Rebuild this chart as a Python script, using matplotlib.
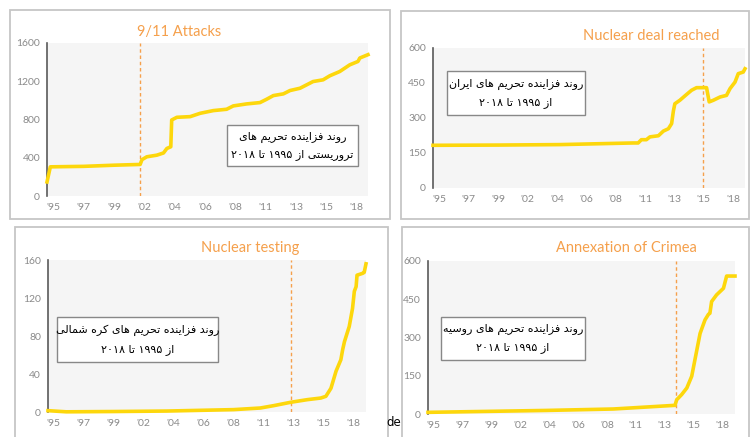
import re
import matplotlib.pyplot as plt
from matplotlib.patches import Rectangle

W, H = 751, 437

# x values are in tick units: 0 = '95, 1 = '97, ... 10 = '18
xticklabels = ["'95", "'97", "'99", "'02", "'04", "'06", "'08", "'11", "'13", "'15", "'18"]

terror_x = [-0.21, -0.10, 1.0, 2.0, 2.86, 2.92, 3.08, 3.41, 3.63, 3.74, 3.87, 3.90, 4.07,
            4.51, 4.84, 5.27, 5.71, 5.93, 6.37, 6.81, 7.03, 7.25, 7.58, 7.80, 8.13, 8.56,
            8.89, 9.11, 9.44, 9.77, 10.04, 10.10, 10.37]
terror_y = [147, 305, 310, 322, 330, 380, 410, 427, 450, 497, 515, 795, 823,
            830, 865, 893, 907, 942, 963, 977, 1012, 1050, 1068, 1103, 1127, 1197,
            1215, 1257, 1302, 1372, 1407, 1443, 1478]

iran_x = [-0.22, 2.0, 4.10, 6.60, 6.77, 6.88, 7.05, 7.17, 7.46, 7.63, 7.80, 7.91, 7.97,
          8.02, 8.19, 8.42, 8.59, 8.76, 9.10, 9.19, 9.33, 9.56, 9.78, 9.90, 10.07,
          10.18, 10.35, 10.41]
iran_y = [183, 184, 186, 193, 193, 207, 207, 219, 224, 244, 254, 276, 330,
          361, 376, 401, 419, 430, 430, 369, 376, 390, 397, 426, 454,
          490, 497, 511]

korea_x = [-0.19, 0.42, 2.0, 3.77, 6.01, 6.90, 7.35, 7.91, 8.47, 8.92, 9.09, 9.26,
           9.43, 9.59, 9.65, 9.71, 9.87, 9.98, 10.04, 10.10, 10.13, 10.32, 10.37, 10.43]
korea_y = [1.4, 0.2, 0.5, 1.0, 2.5, 4.2, 6.7, 10.2, 13.0, 14.7, 16.5, 25,
           43, 55, 65.5, 74, 90, 109, 127, 132, 144, 146, 147, 156]

russia_x = [-0.20, 3.90, 6.22, 8.36, 8.42, 8.59, 8.77, 8.94, 9.05, 9.23, 9.40, 9.52,
            9.57, 9.63, 9.80, 10.04, 10.15, 10.44]
russia_y = [6.5, 14, 19.6, 34, 56, 76, 102, 148, 212, 316, 369, 391,
            395, 441, 467, 493, 541, 541]

titles = ['9/11 Attacks', 'Nuclear deal reached', 'Nuclear testing', 'Annexation of Crimea']
event_x = [2.86, 8.97, 7.93, 8.38]
yticks = [[0, 400, 800, 1200, 1600], [0, 150, 300, 450, 600],
          [0, 40, 80, 120, 160], [0, 150, 300, 450, 600]]
notes = [('روند فزاینده تحریم های', 'تروریستی از ۱۹۹۵ تا ۲۰۱۸'),
         ('روند فزاینده تحریم های ایران', 'از ۱۹۹۵ تا ۲۰۱۸'),
         ('روند فزاینده تحریم های کره شمالی', 'از ۱۹۹۵ تا ۲۰۱۸'),
         ('روند فزاینده تحریم های روسیه', 'از ۱۹۹۵ تا ۲۰۱۸')]

# matplotlib has no Arabic shaping, so pick contextual forms and order by hand
FORMS = {
    'ا': ('\ufe8d', '\ufe8e'),
    'ب': ('\ufe8f', '\ufe90', '\ufe91', '\ufe92'),
    'ت': ('\ufe95', '\ufe96', '\ufe97', '\ufe98'),
    'ح': ('\ufea1', '\ufea2', '\ufea3', '\ufea4'),
    'د': ('\ufea9', '\ufeaa'),
    'ر': ('\ufead', '\ufeae'),
    'ز': ('\ufeaf', '\ufeb0'),
    'س': ('\ufeb1', '\ufeb2', '\ufeb3', '\ufeb4'),
    'ش': ('\ufeb5', '\ufeb6', '\ufeb7', '\ufeb8'),
    'ف': ('\ufed1', '\ufed2', '\ufed3', '\ufed4'),
    'ک': ('\ufb8e', '\ufb8f', '\ufb90', '\ufb91'),
    'ل': ('\ufedd', '\ufede', '\ufedf', '\ufee0'),
    'م': ('\ufee1', '\ufee2', '\ufee3', '\ufee4'),
    'ن': ('\ufee5', '\ufee6', '\ufee7', '\ufee8'),
    'ه': ('\ufee9', '\ufeea', '\ufeeb', '\ufeec'),
    'و': ('\ufeed', '\ufeee'),
    'ی': ('\ufeef', '\ufef0', '\ufef3', '\ufef4'),
}


def shape(text):
    out = []
    for i, ch in enumerate(text):
        f = FORMS.get(ch)
        if f is None:
            out.append(ch)
            continue
        prev = text[i - 1] if i > 0 else ''
        nxt = text[i + 1] if i + 1 < len(text) else ''
        jp = prev in FORMS and len(FORMS[prev]) == 4
        jn = len(f) == 4 and nxt in FORMS
        if jp and jn:
            out.append(f[3])
        elif jp:
            out.append(f[1])
        elif jn:
            out.append(f[2])
        else:
            out.append(f[0])
    runs = re.findall(r'\d+|\D+', ''.join(out))
    return ''.join(r if r[0].isdigit() else r[::-1] for r in reversed(runs))


fig = plt.figure(figsize=(7.51, 4.37), dpi=100)
fig.patch.set_facecolor('white')


def fx(x):
    return x / W


def fy(y):
    return 1 - y / H


# panel frames (pixels: left, top, right, bottom)
frames = [(10, 10, 390, 219), (401, 11, 749, 219), (15, 227, 388, 445), (402, 227, 749, 445)]
for x0, y0, x1, y1 in frames:
    fig.add_artist(Rectangle((fx(x0), fy(y1)), fx(x1 - x0), (y1 - y0) / H,
                             transform=fig.transFigure, fill=False, ec='#c6c6c6', lw=1.3))

axes_px = [(47, 43, 368, 196), (433, 48, 745, 188), (48, 260, 366, 412), (428, 261, 735, 414)]
title_pos = [(179, 32), (651, 36), (250, 248), (626, 248)]
box_px = [(227, 125, 358, 166), (447, 71, 585, 115), (57, 317, 218, 362), (441, 317, 585, 360)]
series = [(terror_x, terror_y), (iran_x, iran_y), (korea_x, korea_y), (russia_x, russia_y)]

orange = '#F5A04C'
yellow = '#FDD70C'

for i in range(4):
    x0, y0, x1, y1 = axes_px[i]
    ax = fig.add_axes([fx(x0), fy(y1), fx(x1 - x0), (y1 - y0) / H])
    ax.set_facecolor('#f5f5f5')
    xs, ys = series[i]
    ax.plot(xs, ys, color=yellow, lw=2.6, solid_joinstyle='round', clip_on=False, zorder=3)
    ax.axvline(event_x[i], color=orange, lw=1, ls=(0, (2.5, 2)), zorder=2)
    ax.set_xlim(xs[0], xs[-1])
    ax.set_ylim(0, yticks[i][-1])
    ax.set_xticks(range(11))
    ax.set_xticklabels(xticklabels)
    ax.set_yticks(yticks[i])
    ax.tick_params(length=0, colors='#8a8a8a', labelsize=7.5, pad=5)
    for lab in ax.get_xticklabels() + ax.get_yticklabels():
        lab.set_family('Lato')
    for s in ['top', 'right', 'bottom']:
        ax.spines[s].set_visible(False)
    ax.spines['left'].set_color('#5a5a5a')
    ax.spines['left'].set_linewidth(1.2)

    tx, ty = title_pos[i]
    fig.text(fx(tx), fy(ty), titles[i], color=orange, fontsize=10.5, family='Lato',
             ha='center', va='center')

    bx0, by0, bx1, by1 = box_px[i]
    fig.add_artist(Rectangle((fx(bx0), fy(by1)), fx(bx1 - bx0), (by1 - by0) / H,
                             transform=fig.transFigure, fc='white', ec='#888888', lw=1, zorder=5))
    cx = (bx0 + bx1) / 2
    h = by1 - by0
    for k, line in enumerate(notes[i]):
        fig.text(fx(cx), fy(by0 + h * (0.3 + 0.42 * k)), shape(line), fontsize=8,
                 family='DejaVu Sans', ha='center', va='center', color='black', zorder=6)

fig.text(fx(401), fy(423), 'de', fontsize=8.5, ha='right', va='center', color='black')

plt.savefig('out.png', dpi=100)
plt.close()
